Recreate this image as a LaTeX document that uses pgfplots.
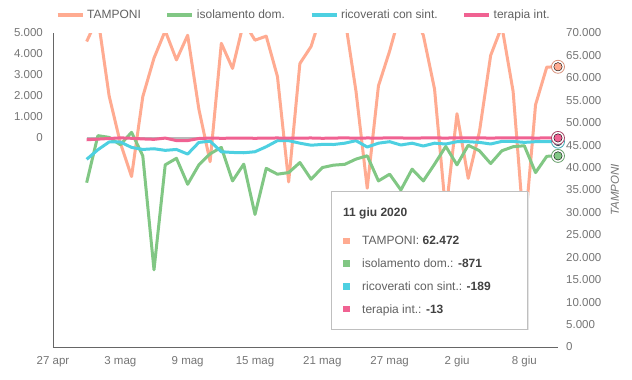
\documentclass[border=0pt]{standalone}
\usepackage{fontspec}
\setmainfont{Liberation Sans}
\usepackage{pgfplots}
\pgfplotsset{compat=1.18}
\definecolor{salmon}{HTML}{FFAB91}
\definecolor{cgreen}{HTML}{81C784}
\definecolor{ccyan}{HTML}{4DD0E1}
\definecolor{cpink}{HTML}{F06292}
\definecolor{tickgray}{HTML}{757575}
\definecolor{axisgray}{HTML}{666666}
\definecolor{txtgray}{HTML}{616161}
\definecolor{boldgray}{HTML}{424242}
\begin{document}
\begin{tikzpicture}
\useasboundingbox (-53pt,-33pt) rectangle (579pt,347pt);
% right axis: TAMPONI
\begin{axis}[
  at={(0pt,0pt)}, anchor=south west, scale only axis,
  width=505pt, height=314pt,
  xmin=0, xmax=45, ymin=0, ymax=70000,
  scaled y ticks=false, scaled x ticks=false,
  hide x axis,
  axis y line*=right,
  y axis line style={draw=none},
  ytick={0,5000,10000,15000,20000,25000,30000,35000,40000,45000,50000,55000,60000,65000,70000},
  yticklabels={0,5.000,10.000,15.000,20.000,25.000,30.000,35.000,40.000,45.000,50.000,55.000,60.000,65.000,70.000},
  major tick length=0pt,
  yticklabel style={anchor=west, inner sep=0pt, xshift=8pt, font=\fontsize{11.5}{13}\selectfont, text=tickgray},
  clip mode=individual,
]
\addplot[salmon, line width=3pt, line join=round] coordinates {
(3,68100) (4,73500) (5,56000) (6,45500) (7,38000) (8,55800) (9,64400) (10,70500)
(11,64000) (12,69500) (13,53000) (14,41300) (15,67700) (16,62100) (17,72500) (18,68400)
(19,69300) (20,60300) (21,36800) (22,63200) (23,67000) (24,75000) (25,76000) (26,73500)
(27,57000) (28,35400) (29,58200) (30,66000) (31,75000) (32,75000) (33,69500) (34,57500)
(35,30000) (36,52000) (37,37600) (38,48000) (39,65000) (40,71500) (41,57000) (42,25000)
(43,54000) (44,62400) (45,62472)};
\addplot[only marks, mark=*, mark size=6.5pt, mark options={draw=salmon!85!black, fill=white, line width=0.8pt}] coordinates {(45,62472)};
\addplot[only marks, mark=*, mark size=4.2pt, mark options={draw=none, fill=salmon}] coordinates {(45,62472)};
\end{axis}
% left axis
\begin{axis}[
  at={(0pt,0pt)}, anchor=south west, scale only axis,
  width=505pt, height=314pt,
  xmin=0, xmax=45, ymin=-10000, ymax=5000,
  scaled y ticks=false, scaled x ticks=false,
  axis x line*=bottom, axis y line*=left,
  axis line style={-, draw=axisgray, line width=0.8pt},
  xtick={0,6,12,18,24,30,36,42},
  xticklabels={27 apr,3 mag,9 mag,15 mag,21 mag,27 mag,2 giu,8 giu},
  ytick={0,1000,2000,3000,4000,5000},
  yticklabels={0,1.000,2.000,3.000,4.000,5.000},
  major tick length=0pt,
  xticklabel style={anchor=base, inner sep=0pt, yshift=-17.5pt, font=\fontsize{11.5}{13}\selectfont, text=tickgray},
  yticklabel style={anchor=east, inner sep=0pt, xshift=-10pt, font=\fontsize{11.5}{13}\selectfont, text=tickgray},
  clip mode=individual,
  legend columns=4,
  legend image code/.code={\draw[#1, line width=4pt] (0pt,0pt) -- (25pt,0pt);},
  legend style={draw=none, fill=none, at={(0.497,1)}, anchor=center, yshift=18pt,
    font=\fontsize{12}{14}\selectfont, text=txtgray, inner sep=0pt,
    nodes={inner sep=2.5pt},
    /tikz/every even column/.append style={column sep=22pt}},
]
\addlegendimage{salmon}
\addlegendentry{TAMPONI}
\addplot[gray!55, line width=2pt, forget plot] coordinates {(3,0) (45,0)};
\addplot[cgreen, line width=3pt, line join=round] coordinates {
(3,-2150) (4,96) (5,14) (6,-337) (7,255) (8,-865) (9,-6313) (10,-1298)
(11,-986) (12,-2226) (13,-1300) (14,-770) (15,-466) (16,-2067) (17,-1265) (18,-3668)
(19,-1466) (20,-1745) (21,-1668) (22,-1188) (23,-1986) (24,-1428) (25,-1313) (26,-1274)
(27,-1024) (28,-865) (29,-2067) (30,-1745) (31,-2500) (32,-1505) (33,-2067) (34,-1265)
(35,-418) (36,-1298) (37,-361) (38,-625) (39,-1236) (40,-625) (41,-433) (42,-385)
(43,-1668) (44,-890) (45,-871)};
\addlegendentry{isolamento dom.}
\addplot[ccyan, line width=3pt, line join=round] coordinates {
(3,-1035) (4,-577) (5,-207) (6,-207) (7,-466) (8,-563) (9,-529) (10,-606)
(11,-563) (12,-784) (13,-226) (14,-168) (15,-673) (16,-707) (17,-721) (18,-673)
(19,-433) (20,-144) (21,-144) (22,-264) (23,-361) (24,-322) (25,-327) (26,-264)
(27,-144) (28,-447) (29,-264) (30,-192) (31,-351) (32,-264) (33,-399) (34,-264)
(35,-303) (36,-192) (37,-192) (38,-226) (39,-303) (40,-178) (41,-178) (42,-226)
(43,-192) (44,-192) (45,-189)};
\addlegendentry{ricoverati con sint.}
\addplot[cpink, line width=3pt, line join=round] coordinates {
(3,-100) (4,-70) (5,-40) (6,-10) (7,-30) (8,-60) (9,-80) (10,-20)
(11,-140) (12,-140) (13,-40) (14,-20) (15,-30) (16,-25) (17,-20) (18,-30)
(19,-20) (20,-15) (21,-25) (22,-20) (23,-15) (24,-30) (25,-20) (26,-10)
(27,-25) (28,-15) (29,-20) (30,-10) (31,-15) (32,-20) (33,-15) (34,-10)
(35,-20) (36,-5) (37,-15) (38,-10) (39,-20) (40,-10) (41,-15) (42,-5)
(43,-20) (44,-10) (45,-13)};
\addlegendentry{terapia int.}
% hover markers
\addplot[forget plot, only marks, mark=*, mark size=6.5pt, mark options={draw=cgreen!80!black, fill=white, line width=0.8pt}] coordinates {(45,-871)};
\addplot[forget plot, only marks, mark=*, mark size=4.2pt, mark options={draw=none, fill=cgreen}] coordinates {(45,-871)};
\addplot[forget plot, only marks, mark=*, mark size=6.5pt, mark options={draw=ccyan!80!black, fill=white, line width=0.8pt}] coordinates {(45,-189)};
\addplot[forget plot, only marks, mark=*, mark size=4.2pt, mark options={draw=none, fill=ccyan}] coordinates {(45,-189)};
\addplot[forget plot, only marks, mark=*, mark size=6.5pt, mark options={draw=cpink!70!black, fill=white, line width=0.8pt}] coordinates {(45,-13)};
\addplot[forget plot, only marks, mark=*, mark size=4.2pt, mark options={draw=none, fill=cpink}] coordinates {(45,-13)};
\end{axis}
% right axis title
\node[rotate=90, inner sep=0pt, font=\fontsize{11.5}{13}\selectfont\itshape, text=tickgray] at (562pt,157pt) {TAMPONI};
% tooltip
\fill[black!10] (279.5pt,16.5pt) rectangle (475.5pt,154.5pt);
\draw[black!25, fill=white, line width=0.8pt] (278pt,18pt) rectangle (474pt,156pt);
\begin{scope}[every node/.style={inner sep=0pt, anchor=base west, font=\fontsize{12}{14}\selectfont, text=txtgray}]
\node[text=boldgray] at (290pt,130pt) {\bfseries 11 giu 2020};
\node at (290pt,102pt) {\textcolor{salmon}{\rule[0.9pt]{6.5pt}{6.5pt}}};
\node at (309pt,102pt) {TAMPONI: \textcolor{boldgray}{\bfseries 62.472}};
\node at (290pt,79.2pt) {\textcolor{cgreen}{\rule[0.9pt]{6.5pt}{6.5pt}}};
\node at (309pt,79.2pt) {isolamento dom.: \textcolor{boldgray}{\bfseries -871}};
\node at (290pt,56.4pt) {\textcolor{ccyan}{\rule[0.9pt]{6.5pt}{6.5pt}}};
\node at (309pt,56.4pt) {ricoverati con sint.: \textcolor{boldgray}{\bfseries -189}};
\node at (290pt,33.6pt) {\textcolor{cpink}{\rule[0.9pt]{6.5pt}{6.5pt}}};
\node at (309pt,33.6pt) {terapia int.: \textcolor{boldgray}{\bfseries -13}};
\end{scope}
\end{tikzpicture}
\end{document}
